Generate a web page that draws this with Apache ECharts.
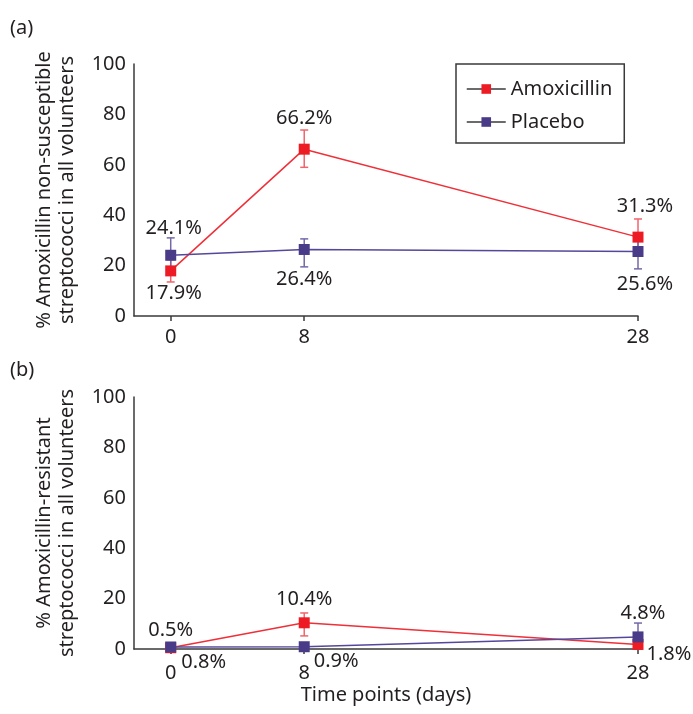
<!DOCTYPE html>
<html>
<head>
<meta charset="utf-8">
<script src="https://cdn.jsdelivr.net/npm/echarts@6/dist/echarts.min.js"></script>
<style>
  html, body { margin: 0; padding: 0; background: #fff; }
  #chart { width: 693px; height: 714px; }
</style>
</head>
<body>
<div id="chart"></div>
<script>
// time points (days)
var days = [0, 8, 28]
var tickDays = [0, 8, 28]

// (a) non-susceptible
var amoxA = [17.9, 66.2, 31.3]
var placeboA = [24.1, 26.4, 25.6]
var amoxLowA = [13.5, 59.0, 24.5]
var amoxHighA = [22.3, 73.8, 38.5]
var placeboLowA = [17.5, 19.5, 18.7]
var placeboHighA = [31.0, 30.6, 32.3]

// (b) resistant
var amoxB = [0.5, 10.4, 1.8]
var placeboB = [0.8, 0.9, 4.8]
var amoxLowB = [0.5, 5.2, 1.8]
var amoxHighB = [0.5, 14.3, 1.8]
var placeboLowB = [0.8, 0.9, 0]
var placeboHighB = [0.8, 0.9, 10.3]

var RED = '#ed1c24'
var PURPLE = '#4a3b89'
var TXT = '#231f20'
var FONT = 'Noto Sans'
var FS = 20

// label placement per point: [position, distance, offset]
var lblAmoxA = [['bottom', 7, [3, 0]], ['top', 15, [0, 0]], ['top', 15, [7, 0]]]
var lblPlaceboA = [['top', 11, [3, 0]], ['bottom', 14, [0, 0]], ['bottom', 17, [7, 0]]]
var lblAmoxB = [['top', 2, [0, 0]], ['top', 8, [0, 0]], ['right', 3, [0, 10]]]
var lblPlaceboB = [['right', 5, [0, 15]], ['right', 4, [0, 15]], ['top', 8, [5, 0]]]

function pts(vals, lbls) {
  return vals.map(function(v, i) {
    return {
      value: [days[i], v],
      label: {
        show: true,
        position: lbls[i][0],
        distance: lbls[i][1],
        offset: lbls[i][2],
        formatter: v + '%',
        color: TXT,
        fontSize: FS,
        fontFamily: FONT
      }
    }
  })
}

function errSeries(idx, lows, highs, color) {
  return {
    type: 'custom',
    xAxisIndex: idx,
    yAxisIndex: idx,
    silent: true,
    z: 1,
    data: days.map(function(d, i) { return [d, lows[i], highs[i]] }),
    renderItem: function(params, api) {
      var lo = api.coord([api.value(0), api.value(1)])
      var hi = api.coord([api.value(0), api.value(2)])
      var w = 4
      var st = { stroke: color, lineWidth: 1.5 }
      return {
        type: 'group',
        children: [
          { type: 'line', shape: { x1: lo[0], y1: lo[1], x2: hi[0], y2: hi[1] }, style: st },
          { type: 'line', shape: { x1: hi[0] - w, y1: hi[1], x2: hi[0] + w, y2: hi[1] }, style: st },
          { type: 'line', shape: { x1: lo[0] - w, y1: lo[1], x2: lo[0] + w, y2: lo[1] }, style: st }
        ]
      }
    }
  }
}

function lineSeries(idx, name, vals, lbls, color, lineColor) {
  return {
    name: name,
    type: 'line',
    xAxisIndex: idx,
    yAxisIndex: idx,
    symbol: 'rect',
    symbolSize: 11,
    z: 3,
    itemStyle: { color: color },
    lineStyle: { color: lineColor, width: 1.5 },
    data: pts(vals, lbls)
  }
}

function xAxis(idx, withName) {
  return {
    type: 'value',
    gridIndex: idx,
    min: -2.2,
    max: 28,
    splitLine: { show: false },
    axisLine: { onZero: false, lineStyle: { color: '#3a3a3a', width: 1.5 } },
    axisTick: { customValues: tickDays, length: 5, lineStyle: { color: '#3a3a3a', width: 1.5 } },
    axisLabel: { customValues: tickDays, color: TXT, fontSize: FS, fontFamily: FONT, margin: withName ? 14 : 11 },
    name: withName ? 'Time points (days)' : '',
    nameLocation: 'middle',
    nameGap: 36,
    nameTextStyle: { color: TXT, fontSize: FS, fontFamily: FONT }
  }
}

function yAxis(idx, name) {
  return {
    type: 'value',
    gridIndex: idx,
    min: 0,
    max: 100,
    interval: 20,
    splitLine: { show: false },
    axisLine: { show: true, onZero: false, lineStyle: { color: '#3a3a3a', width: 1.5 } },
    axisTick: { show: false },
    axisLabel: { color: TXT, fontSize: FS, fontFamily: FONT, margin: 8 },
    name: name,
    nameLocation: 'middle',
    nameGap: 55,
    nameTextStyle: { color: TXT, fontSize: FS, fontFamily: FONT, lineHeight: 23 }
  }
}

var chart = echarts.init(document.getElementById('chart'))
chart.setOption({
  animation: false,
  backgroundColor: '#fff',
  title: [
    { text: '(a)', left: 10, top: 18, textStyle: { color: TXT, fontSize: FS, fontWeight: 'normal', fontFamily: FONT }, padding: 0 },
    { text: '(b)', left: 10, top: 360, textStyle: { color: TXT, fontSize: FS, fontWeight: 'normal', fontFamily: FONT }, padding: 0 }
  ],
  legend: {
    left: 456,
    top: 64,
    orient: 'vertical',
    width: 170,
    padding: [15, 12, 11, 10],
    itemGap: 13,
    itemWidth: 39,
    itemHeight: 12,
    borderColor: '#3a3a3a',
    borderWidth: 1.5,
    lineStyle: { color: '#3a3a3a', width: 1.5 },
    textStyle: { color: TXT, fontSize: FS, fontFamily: FONT },
    data: ['Amoxicillin', 'Placebo']
  },
  grid: [
    { left: 134, right: 55, top: 64, height: 252 },
    { left: 134, right: 55, top: 397, height: 252 }
  ],
  xAxis: [xAxis(0, false), xAxis(1, true)],
  yAxis: [
    yAxis(0, '% Amoxicillin non-susceptible\nstreptococci in all volunteers'),
    yAxis(1, '% Amoxicillin-resistant\nstreptococci in all volunteers')
  ],
  series: [
    errSeries(0, amoxLowA, amoxHighA, '#f0646b'),
    errSeries(0, placeboLowA, placeboHighA, '#7468a8'),
    errSeries(1, amoxLowB, amoxHighB, '#f0646b'),
    errSeries(1, placeboLowB, placeboHighB, '#7468a8'),
    lineSeries(0, 'Amoxicillin', amoxA, lblAmoxA, RED, '#ef3038'),
    lineSeries(0, 'Placebo', placeboA, lblPlaceboA, PURPLE, '#54489a'),
    lineSeries(1, 'Amoxicillin', amoxB, lblAmoxB, RED, '#ef3038'),
    lineSeries(1, 'Placebo', placeboB, lblPlaceboB, PURPLE, '#54489a')
  ]
})
</script>
</body>
</html>
